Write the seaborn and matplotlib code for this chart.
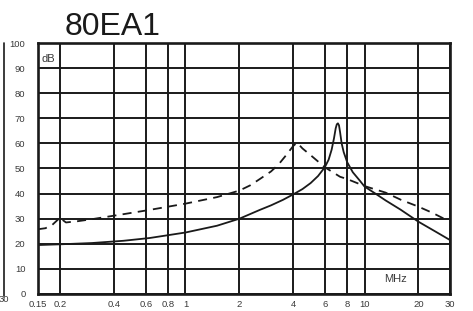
import matplotlib

matplotlib.use("Agg")
import matplotlib.pyplot as plt
import pandas as pd
import seaborn as sns
from matplotlib.lines import Line2D

# ============================================================
# Data
# ============================================================
TITLE = "80EA1"

solid_freq = [0.15, 0.2, 0.3, 0.45, 0.63, 1.0, 1.5, 2.0, 2.6, 3.0, 3.5, 4.0,
              4.5, 5.0, 5.5, 6.0, 6.3, 6.55, 6.75, 6.9, 7.0, 7.1, 7.2, 7.3,
              7.45, 7.65, 8.0, 8.6, 9.4, 10.0, 11.5, 13.1, 15.9, 20.0, 25.0, 30.0]
solid_db = [19.5, 19.8, 20.3, 21.2, 22.3, 24.5, 27.2, 30.0, 33.5, 35.3, 37.5, 39.7,
            41.8, 44.2, 47.0, 50.5, 53.5, 57.5, 62.0, 66.0, 67.6, 68.0, 67.2, 64.5,
            60.0, 56.5, 52.5, 48.5, 45.2, 42.8, 40.0, 37.3, 33.6, 28.8, 24.8, 21.5]

dash_freq = [0.15, 0.165, 0.18, 0.195, 0.2, 0.205, 0.215, 0.25, 0.3, 0.45, 0.63,
             1.0, 1.5, 2.0, 2.3, 2.6, 3.0, 3.3, 3.6, 4.0, 4.2, 4.5, 5.0, 6.0, 7.3,
             8.0, 10.0, 13.1, 16.0, 20.0, 24.0, 28.5]
dash_db = [25.8, 26.2, 27.5, 29.8, 30.8, 29.6, 28.5, 29.0, 29.8, 31.8, 33.5,
           36.0, 38.6, 41.2, 43.3, 45.8, 48.8, 51.5, 54.8, 59.0, 60.3, 58.0, 55.3, 50.5,
           46.7, 45.8, 43.0, 40.4, 37.5, 34.8, 32.3, 29.6]

x_ticks = [0.15, 0.2, 0.4, 0.6, 0.8, 1, 2, 4, 6, 8, 10, 20, 30]
x_tick_labels = ["0.15", "0.2", "0.4", "0.6", "0.8", "1", "2", "4", "6", "8", "10", "20", "30"]
y_ticks = [0, 10, 20, 30, 40, 50, 60, 70, 80, 90, 100]

LINE_COLOR = "#1a1a1a"
TEXT_COLOR = "#3a3a3a"

# ============================================================
# Plot
# ============================================================
sns.set_style("white")
plt.rcParams["font.family"] = ["Liberation Sans", "DejaVu Sans"]

df_solid = pd.DataFrame({"freq": solid_freq, "db": solid_db})
df_dash = pd.DataFrame({"freq": dash_freq, "db": dash_db})

fig = plt.figure(figsize=(4.73, 3.11), dpi=100)
ax = fig.add_axes([0.0803, 0.0547, 0.871, 0.807])

sns.lineplot(data=df_solid, x="freq", y="db", ax=ax, color=LINE_COLOR,
             lw=1.3, estimator=None, sort=False, zorder=3)
sns.lineplot(data=df_dash, x="freq", y="db", ax=ax, color=LINE_COLOR,
             lw=1.3, estimator=None, sort=False, zorder=3, linestyle=(0, (5, 3.5)))

ax.set_xscale("log")
ax.set_xlim(0.15, 30)
ax.set_ylim(0, 100)
ax.set_xticks(x_ticks)
ax.set_xticklabels(x_tick_labels)
ax.xaxis.set_minor_locator(matplotlib.ticker.NullLocator())
ax.set_yticks(y_ticks)
ax.tick_params(axis="both", length=0, labelsize=6.8, colors=TEXT_COLOR)
ax.tick_params(axis="y", pad=9)
ax.tick_params(axis="x", pad=4.5)
ax.set_xlabel("")
ax.set_ylabel("")

ax.grid(True, which="major", color=LINE_COLOR, lw=1.4)
ax.set_axisbelow(True)
for side in ax.spines.values():
    side.set_color(LINE_COLOR)
    side.set_linewidth(1.9)

ax.text(0.008, 0.955, "dB", transform=ax.transAxes, fontsize=8,
        color=TEXT_COLOR, ha="left", va="top")
ax.text(0.84, 0.04, "MHz", transform=ax.transAxes, fontsize=8,
        color=TEXT_COLOR, ha="left", va="bottom")

fig.text(65 / 473, 1 - 35 / 311, TITLE, fontsize=23, color="#1a1a1a",
         ha="left", va="baseline")

# edge of the neighbouring chart visible on the left
fig.add_artist(Line2D([4 / 473, 4 / 473], [1 - 43 / 311, 1 - 296 / 311],
                      color=LINE_COLOR, lw=1.2))
fig.text(9 / 473, 1 - 300 / 311, "30", fontsize=6.8, color=TEXT_COLOR,
         ha="right", va="center")

fig.savefig("out.png", dpi=100)
plt.close(fig)
